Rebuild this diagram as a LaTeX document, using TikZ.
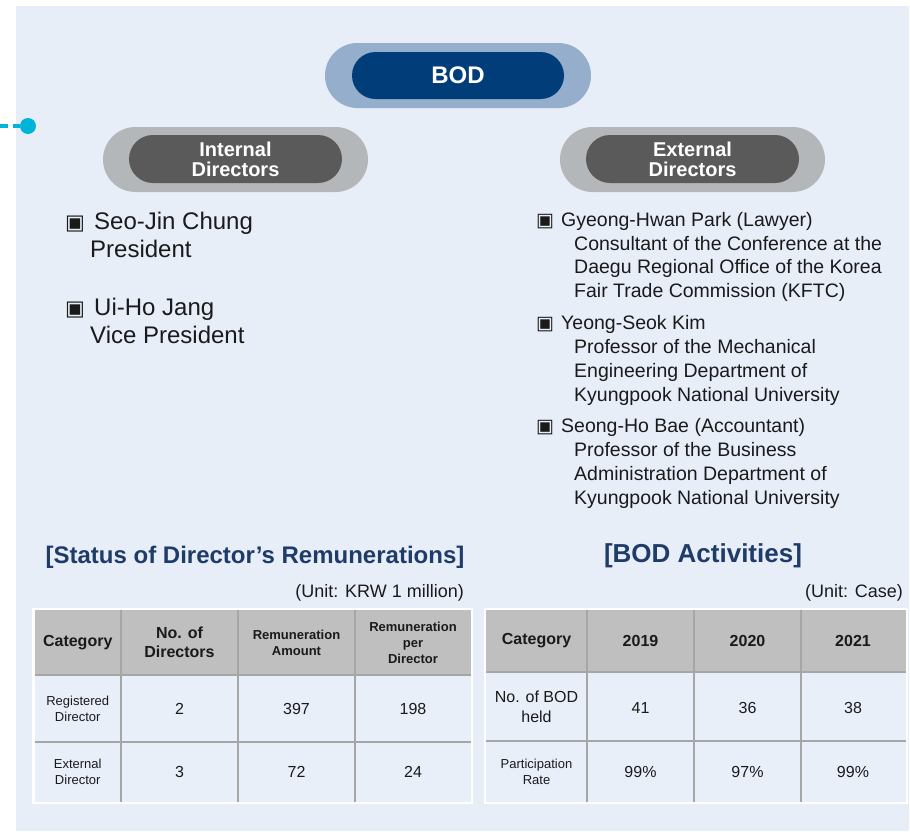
\documentclass[tikz,border=0pt]{standalone}
\usepackage{fontspec}
\setmainfont{Liberation Sans}
\newfontfamily\symfont{DejaVu Sans}
\usetikzlibrary{shapes.misc}
\definecolor{panel}{HTML}{E8EEF8}
\definecolor{bodout}{HTML}{94AECB}
\definecolor{bodin}{HTML}{003D79}
\definecolor{grout}{HTML}{B4B7BA}
\definecolor{grin}{HTML}{5A5A5A}
\definecolor{navy}{HTML}{1F3C68}
\definecolor{cyanc}{HTML}{00B4D8}
\definecolor{hdrc}{HTML}{BFBFBF}
\definecolor{gridc}{HTML}{A6A6A6}
\definecolor{cellc}{HTML}{E9EFF9}
\definecolor{ink}{HTML}{1A1A1A}
\tikzset{
  pill/.style={rounded rectangle, inner sep=0pt},
  pilltext/.style={pill, text=white, font=\bfseries\fontsize{20pt}{20pt}\selectfont, align=center},
  ltxt/.style={anchor=base west, inner sep=0pt, text=ink, font=\fontsize{24pt}{28pt}\selectfont},
  rtxt/.style={anchor=base west, inner sep=0pt, text=ink, font=\fontsize{19.5pt}{24pt}\selectfont},
  lbul/.style={anchor=base west, inner sep=0pt, text=ink, font=\symfont\fontsize{21pt}{24pt}\selectfont},
  rbul/.style={anchor=base west, inner sep=0pt, text=ink, font=\symfont\fontsize{19pt}{24pt}\selectfont},
  ttl/.style={anchor=base, inner sep=0pt, text=navy, font=\bfseries\fontsize{#1}{#1}\selectfont},
  unit/.style={anchor=base east, inner sep=0pt, text=ink, font=\fontsize{18pt}{20pt}\selectfont},
  hb/.style={inner sep=0pt, align=center, text=ink, font=\bfseries\fontsize{16pt}{19.5pt}\selectfont},
  hbs/.style={inner sep=0pt, align=center, text=ink, font=\bfseries\fontsize{13pt}{16pt}\selectfont},
  cr/.style={inner sep=0pt, align=center, text=ink, font=\fontsize{16pt}{20pt}\selectfont},
  crs/.style={inner sep=0pt, align=center, text=ink, font=\fontsize{13pt}{15.7pt}\selectfont},
  gline/.style={draw=gridc, line width=2pt},
}
\begin{document}
\begin{tikzpicture}[x=1pt,y=-1pt]
\useasboundingbox (0,0) rectangle (910,831);
\fill[white] (0,0) rectangle (910,831);
\fill[panel] (16,6) rectangle (909,831);

% connector dot on the left
\coordinate (cstart) at (0,126);
\node[circle, fill=cyanc, minimum size=16pt, inner sep=0pt] (cdot) at (28,126) {};
\draw[cyanc, line width=4pt, dash pattern=on 8pt off 5pt] (cstart) -- (cdot);

% BOD pill
\node[pill, fill=bodout, minimum width=266pt, minimum height=65pt] (bod) at (458,75.5) {};
\node[pill, fill=bodin, minimum width=212pt, minimum height=47pt, text=white,
      font=\bfseries\fontsize{24pt}{24pt}\selectfont] (bodi) at (458,75.5) {BOD};

% Internal / External pills
\node[pill, fill=grout, minimum width=265pt, minimum height=65pt] (intd) at (235.5,159.5) {};
\node[pilltext, fill=grin, minimum width=213pt, minimum height=48pt] (intdi) at (235.5,159) {Internal\\Directors};
\node[pill, fill=grout, minimum width=265pt, minimum height=65pt] (extd) at (692.5,159.5) {};
\node[pilltext, fill=grin, minimum width=213pt, minimum height=48pt] (extdi) at (692.5,159) {External\\Directors};

% Internal directors list
\node[lbul] (lb1) at (65,229) {▣};
\node[ltxt] (ln1) at (94,229) {Seo-Jin Chung};
\node[ltxt] (lp1) at (90,257) {President};
\node[lbul] (lb2) at (65,315) {▣};
\node[ltxt] (ln2) at (94,315) {Ui-Ho Jang};
\node[ltxt] (lp2) at (90,343) {Vice President};

% External directors list
\node[rbul] (rb1) at (536,226) {▣};
\node[rtxt] (rn1) at (561,226) {Gyeong-Hwan Park (Lawyer)};
\node[rtxt] (rd1a) at (574,250) {Consultant of the Conference at the};
\node[rtxt] (rd1b) at (574,273.5) {Daegu Regional Office of the Korea};
\node[rtxt] (rd1c) at (574,297.5) {Fair Trade Commission (KFTC)};
\node[rbul] (rb2) at (536,329.5) {▣};
\node[rtxt] (rn2) at (561,329.5) {Yeong-Seok Kim};
\node[rtxt] (rd2a) at (574,353.5) {Professor of the Mechanical};
\node[rtxt] (rd2b) at (574,377.5) {Engineering Department of};
\node[rtxt] (rd2c) at (574,401.5) {Kyungpook National University};
\node[rbul] (rb3) at (536,432.5) {▣};
\node[rtxt] (rn3) at (561,432.5) {Seong-Ho Bae (Accountant)};
\node[rtxt] (rd3a) at (574,456.5) {Professor of the Business};
\node[rtxt] (rd3b) at (574,480.5) {Administration Department of};
\node[rtxt] (rd3c) at (574,504.5) {Kyungpook National University};

% Titles
\node[ttl=24pt] (t1) at (255,563) {[Status of Director’s Remunerations]};
\node[ttl=26pt] (t2) at (703,562.5) {[BOD Activities]};
\node[unit] (u1) at (464,597) {(Unit: KRW 1 million)};
\node[unit] (u2) at (903,597) {(Unit: Case)};

% Left table
\fill[white] (32,607.5) rectangle (473,804);
\fill[hdrc] (34.5,610) rectangle (471,675);
\fill[cellc] (34.5,675) rectangle (471,802);
\draw[gline] (34.5,675) -- (471,675);
\draw[gline] (34.5,741.5) -- (471,741.5);
\foreach \x in {121,238,355} \draw[gline] (\x,610) -- (\x,802);

\node[hb] (lh1) at (77.75,642.5) {Category};
\node[hb] (lh2) at (179.5,642.5) {No. of\\Directors};
\node[hbs] (lh3) at (296.5,642.5) {Remuneration\\Amount};
\node[hbs] (lh4) at (413,642.5) {Remuneration\\per\\Director};
\node[crs] (la1) at (77.75,708.5) {Registered\\Director};
\node[cr] (la2) at (179.5,708.5) {2};
\node[cr] (la3) at (296.5,708.5) {397};
\node[cr] (la4) at (413,708.5) {198};
\node[crs] (lb1t) at (77.75,772) {External\\Director};
\node[cr] (lb2t) at (179.5,772) {3};
\node[cr] (lb3t) at (296.5,772) {72};
\node[cr] (lb4t) at (413,772) {24};

% Right table
\fill[white] (484,607.5) rectangle (908,804);
\fill[hdrc] (486,610) rectangle (905.5,672);
\fill[cellc] (486,672) rectangle (905.5,802);
\draw[gline] (486,672) -- (905.5,672);
\draw[gline] (486,741) -- (905.5,741);
\foreach \x in {587,694,801} \draw[gline] (\x,610) -- (\x,802);

\node[hb] (rh1) at (536.5,641) {Category};
\node[hb] (rh2) at (640.5,641) {2019};
\node[hb] (rh3) at (747.5,641) {2020};
\node[hb] (rh4) at (853,641) {2021};
\node[cr] (ra1) at (536.5,707) {No. of BOD\\held};
\node[cr] (ra2) at (640.5,707.5) {41};
\node[cr] (ra3) at (747.5,707.5) {36};
\node[cr] (ra4) at (853,707.5) {38};
\node[crs] (rb1t) at (536.5,772) {Participation\\Rate};
\node[cr] (rb2t) at (640.5,772) {99\%};
\node[cr] (rb3t) at (747.5,772) {97\%};
\node[cr] (rb4t) at (853,772) {99\%};
\end{tikzpicture}
\end{document}
